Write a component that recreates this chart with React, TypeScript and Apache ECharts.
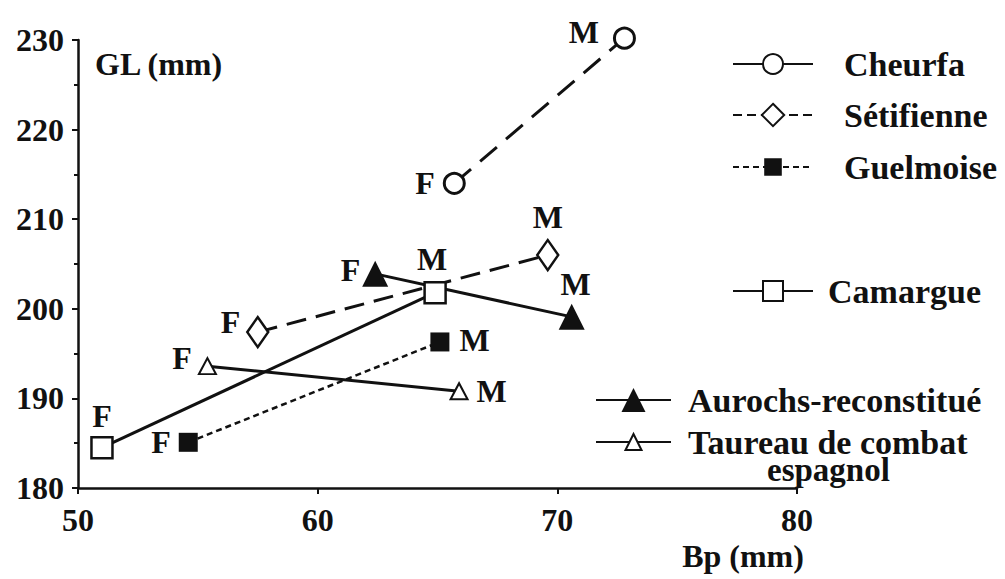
import React, { useEffect, useRef } from "react";
import * as echarts from "echarts";

// ---- data (Bp in mm, GL in mm), first point = F, second = M ----
const sexLabels = ["F", "M"];
const cheurfaBp = [65.7, 72.8];
const cheurfaGl = [214.0, 230.2];
const setifienneBp = [57.5, 69.6];
const setifienneGl = [197.4, 206.0];
const guelmoiseBp = [54.6, 65.1];
const guelmoiseGl = [185.1, 196.3];
const camargueBp = [51.0, 64.9];
const camargueGl = [184.5, 201.8];
const aurochsBp = [62.4, 70.6];
const aurochsGl = [203.9, 199.1];
const taureauBp = [55.4, 65.9];
const taureauGl = [193.6, 190.8];

const xTicks = [50, 60, 70, 80];
const yTicks = [180, 190, 200, 210, 220, 230];

const FONT = "'Liberation Serif', 'Times New Roman', serif";
const INK = "#111";

type LabelPos = { position: string; distance: number; offset: [number, number] };

function pts(bp: number[], gl: number[], labelPos: LabelPos[]) {
  return bp.map((x, i) => ({
    value: [x, gl[i]],
    label: {
      show: true,
      formatter: sexLabels[i],
      position: labelPos[i].position,
      distance: labelPos[i].distance,
      offset: labelPos[i].offset,
      fontFamily: FONT,
      fontWeight: "bold",
      fontSize: 32,
      color: INK,
    },
  }));
}

export default function App() {
  const ref = useRef<HTMLDivElement>(null);
  useEffect(() => {
    if (!ref.current) return;
    const chart = echarts.init(ref.current, null, { renderer: "svg" });

    const openItem = (bw: number) => ({ color: "#fff", borderColor: INK, borderWidth: bw, opacity: 1 });
    const filledItem = { color: INK, borderColor: INK, borderWidth: 0, opacity: 1 };

    const series: any[] = [
      {
        name: "Cheurfa",
        type: "line",
        clip: false,
        symbol: "circle",
        symbolSize: 20,
        itemStyle: openItem(3),
        lineStyle: { color: INK, width: 3, type: [22, 12] },
        data: pts(cheurfaBp, cheurfaGl, [
          { position: "left", distance: 8, offset: [0, 0] },
          { position: "left", distance: 14, offset: [0, -6] },
        ]),
        z: 2,
      },
      {
        name: "Sétifienne",
        type: "line",
        clip: false,
        symbol: "diamond",
        symbolSize: [21, 30],
        itemStyle: openItem(2.5),
        lineStyle: { color: INK, width: 3, type: [20, 10] },
        data: pts(setifienneBp, setifienneGl, [
          { position: "left", distance: 6, offset: [0, -10] },
          { position: "top", distance: 6, offset: [0, 0] },
        ]),
        z: 2,
      },
      {
        name: "Guelmoise",
        type: "line",
        clip: false,
        symbol: "rect",
        symbolSize: 19,
        itemStyle: filledItem,
        lineStyle: { color: INK, width: 2.5, type: [6, 4] },
        data: pts(guelmoiseBp, guelmoiseGl, [
          { position: "left", distance: 8, offset: [0, 0] },
          { position: "right", distance: 10, offset: [0, -2] },
        ]),
        z: 2,
      },
      {
        name: "Aurochs-reconstitué",
        type: "line",
        clip: false,
        symbol: "triangle",
        symbolSize: [26, 26],
        itemStyle: filledItem,
        lineStyle: { color: INK, width: 3, type: "solid" },
        data: pts(aurochsBp, aurochsGl, [
          { position: "left", distance: 2, offset: [0, -4] },
          { position: "top", distance: 4, offset: [4, 0] },
        ]),
        z: 2,
      },
      {
        name: "Taureau de combat espagnol",
        type: "line",
        clip: false,
        symbol: "triangle",
        symbolSize: [17, 16],
        itemStyle: openItem(2),
        lineStyle: { color: INK, width: 3, type: "solid" },
        data: pts(taureauBp, taureauGl, [
          { position: "left", distance: 6, offset: [0, -8] },
          { position: "right", distance: 8, offset: [0, 0] },
        ]),
        z: 2,
      },
      {
        name: "Camargue",
        type: "line",
        clip: false,
        symbol: "rect",
        symbolSize: 21,
        itemStyle: openItem(2.5),
        lineStyle: { color: INK, width: 3, type: "solid" },
        data: pts(camargueBp, camargueGl, [
          { position: "top", distance: 4, offset: [0, 0] },
          { position: "top", distance: 6, offset: [-3, 0] },
        ]),
        z: 4,
      },
    ];

    const mkLegend = (
      name: string,
      left: number,
      centerY: number,
      itemWidth: number,
      itemHeight: number,
      textGap: number,
      extra: any = {}
    ) => ({
      data: [name],
      left,
      top: centerY - Math.max(itemHeight, 26) / 2,
      orient: "vertical",
      itemWidth,
      itemHeight,
      itemGap: 0,
      padding: 0,
      selectedMode: false,
      textStyle: {
        fontFamily: FONT,
        fontWeight: "bold",
        fontSize: 34,
        color: INK,
        lineHeight: 26,
        padding: [0, 0, 0, textGap - 5],
      },
      ...extra,
    });

    chart.setOption({
      animation: false,
      backgroundColor: "#fff",
      grid: { left: 78, top: 40, right: 208, bottom: 91, containLabel: false },
      xAxis: {
        type: "value",
        min: xTicks[0],
        max: xTicks[xTicks.length - 1],
        interval: 10,
        name: "Bp (mm)",
        nameLocation: "end",
        nameGap: -54,
        nameTextStyle: {
          fontFamily: FONT,
          fontWeight: "bold",
          fontSize: 32,
          color: INK,
          align: "center",
          verticalAlign: "top",
          padding: [52, 0, 0, 0],
        },
        axisLine: { show: true, onZero: false, lineStyle: { color: INK, width: 2.5 } },
        axisTick: { show: true, length: 6, lineStyle: { color: INK, width: 2 } },
        axisLabel: {
          margin: 16,
          fontFamily: FONT,
          fontWeight: "bold",
          fontSize: 32,
          color: INK,
          formatter: (v: number) => (xTicks.includes(v) ? String(v) : ""),
        },
        splitLine: { show: false },
      },
      yAxis: {
        type: "value",
        min: yTicks[0],
        max: yTicks[yTicks.length - 1],
        interval: 10,
        name: "GL (mm)",
        nameLocation: "end",
        nameGap: -24,
        nameTextStyle: {
          fontFamily: FONT,
          fontWeight: "bold",
          fontSize: 32,
          color: INK,
          align: "left",
          verticalAlign: "middle",
          padding: [0, 0, 0, 17],
        },
        axisLine: { show: true, onZero: false, lineStyle: { color: INK, width: 2.5 } },
        axisTick: { show: true, length: 6, lineStyle: { color: INK, width: 2 } },
        minorTick: { show: true, splitNumber: 2, length: 4, lineStyle: { color: INK, width: 2 } },
        axisLabel: {
          margin: 14,
          fontFamily: FONT,
          fontWeight: "bold",
          fontSize: 32,
          color: INK,
          formatter: (v: number) => (yTicks.includes(v) ? String(v) : ""),
        },
        splitLine: { show: false },
      },
      legend: [
        mkLegend("Cheurfa", 732, 60, 80, 25, 31, { lineStyle: { type: "solid" } }),
        mkLegend("Sétifienne", 732, 112, 80, 28, 31, { lineStyle: { type: [9, 5] } }),
        mkLegend("Guelmoise", 732, 163, 80, 22, 31),
        mkLegend("Camargue", 732, 287, 80, 25, 15),
        mkLegend("Aurochs-reconstitué", 595, 398, 75, 30, 17),
        mkLegend("Taureau de combat espagnol", 595, 438, 75, 20, 17, {
          formatter: () => "Taureau de combat",
        }),
      ],
      graphic: [
        {
          type: "text",
          left: 767,
          top: 453,
          style: {
            text: "espagnol",
            fontFamily: FONT,
            fontWeight: "bold",
            fontSize: 33,
            lineHeight: 24,
            fill: INK,
          },
        },
      ],
      series,
    });

    return () => chart.dispose();
  }, []);

  return (
    <div
      ref={ref}
      style={{ position: "absolute", left: 0, top: 0, width: 1005, height: 579, background: "#fff" }}
    />
  );
}
